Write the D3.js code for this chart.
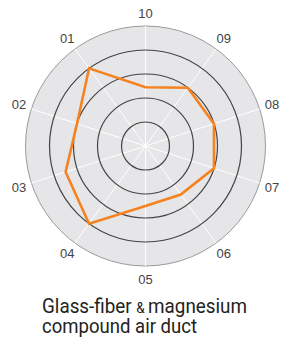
<!DOCTYPE html>
<html>
<head>
<meta charset="utf-8">
<script src="https://cdn.jsdelivr.net/npm/d3@7"></script>
<style>
  html, body { margin: 0; padding: 0; background: #fff; }
  svg { display: block; }
</style>
</head>
<body>
<div id="RadarPlot"></div>
<script>
// axis labels, clockwise from top
const axes = ["10", "09", "08", "07", "06", "05", "04", "03", "02", "01"];
// value per axis (0-5 scale, one ring per unit)
const values = [2.45, 3, 3, 3, 2.5, 2.5, 4, 3.5, 3, 4];
const rings = [1, 2, 3, 4];
const maxValue = 5;
const titleLines = ["Glass-fiber", "&", "magnesium", "compound air duct"];

const width = 291, height = 344;
const cx = 145.5, cy = 146, radius = 120;

const svg = d3.select("#RadarPlot")
  .append("svg")
  .attr("width", width)
  .attr("height", height);

const g = svg.append("g")
  .attr("transform", "translate(" + cx + "," + cy + ")");

let r = d3.scaleLinear().domain([0, maxValue]).range([0, radius]);
let angle = d3.scaleBand().domain(axes).range([0, 2 * Math.PI]);

const px = (a, d) => Math.sin(a) * d;
const py = (a, d) => -Math.cos(a) * d;

// background disc
g.append("circle")
  .attr("r", r(maxValue))
  .attr("fill", "#e6e6e8")
  .attr("stroke", "#9a9a9a")
  .attr("stroke-width", 1);

// spokes
g.selectAll(".spoke")
  .data(axes)
  .enter()
  .append("line")
  .attr("class", "spoke")
  .attr("x1", 0)
  .attr("y1", 0)
  .attr("x2", d => px(angle(d), r(maxValue)))
  .attr("y2", d => py(angle(d), r(maxValue)))
  .style("stroke", "#ffffff")
  .style("stroke-width", 1);

// rings
g.selectAll(".ring")
  .data(rings)
  .enter()
  .append("circle")
  .attr("class", "ring")
  .attr("r", d => r(d))
  .attr("fill", "none")
  .style("stroke", "#444")
  .style("stroke-width", 1.2);

// series outline
const line = d3.lineRadial()
  .angle((d, i) => angle(axes[i]))
  .radius(d => r(d))
  .curve(d3.curveLinearClosed);

g.append("path")
  .datum(values)
  .attr("d", line)
  .attr("fill", "none")
  .style("stroke", "#f5821f")
  .style("stroke-width", 2.6)
  .style("stroke-linejoin", "miter");

// axis labels
g.selectAll(".label")
  .data(axes)
  .enter()
  .append("text")
  .attr("class", "label")
  .attr("x", d => px(angle(d), radius + 13))
  .attr("y", d => py(angle(d), radius + 13))
  .attr("dy", "0.35em")
  .style("text-anchor", "middle")
  .style("font-family", "'Liberation Sans', Arial, sans-serif")
  .style("font-size", "13px")
  .style("fill", "#444")
  .text(d => d);

// title, squeezed to look condensed
const titleFont = "Roboto, 'Liberation Sans', sans-serif";

const title1 = svg.append("text")
  .attr("x", 42)
  .attr("y", 313)
  .attr("textLength", 205)
  .attr("lengthAdjust", "spacingAndGlyphs")
  .style("font-family", titleFont)
  .style("font-size", "19.5px")
  .style("fill", "#222");

title1.append("tspan").text(titleLines[0] + " ");
title1.append("tspan").style("font-size", "14px").text(titleLines[1] + " ");
title1.append("tspan").text(titleLines[2]);

svg.append("text")
  .attr("x", 42)
  .attr("y", 333)
  .attr("textLength", 155)
  .attr("lengthAdjust", "spacingAndGlyphs")
  .style("font-family", titleFont)
  .style("font-size", "19.5px")
  .style("fill", "#222")
  .text(titleLines[3]);
</script>
</body>
</html>
